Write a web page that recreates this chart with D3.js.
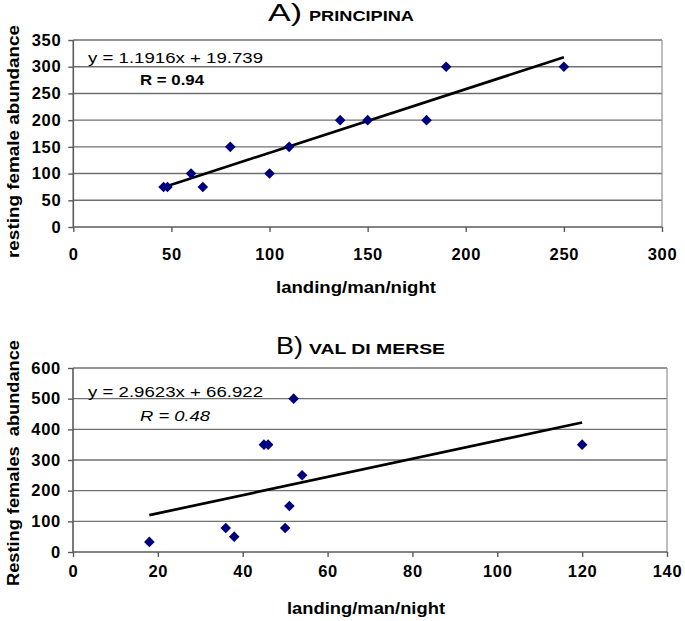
<!DOCTYPE html>
<html>
<head>
<meta charset="utf-8">
<script src="https://cdn.jsdelivr.net/npm/d3@7"></script>
<style>
  html, body { margin: 0; padding: 0; background: #fff; }
  svg { display: block; }
  text { font-family: "Liberation Sans", Arial, sans-serif; fill: #000; }
</style>
</head>
<body>
<svg id="chart" width="685" height="621"></svg>
<script>
// ---------- Data ----------
const landingA = [46, 48, 60, 66, 80, 100, 110, 136, 150, 180, 190, 250];
const restingA = [75, 75, 100, 75, 150, 100, 150, 200, 200, 200, 300, 300];
const slopeA = 1.1916, interceptA = 19.739;
const xTicksA = [0, 50, 100, 150, 200, 250, 300];
const yTicksA = [0, 50, 100, 150, 200, 250, 300, 350];

const landingB = [18, 36, 38, 45, 46, 50, 51, 52, 54, 120];
const restingB = [33, 78, 50, 350, 350, 78, 150, 500, 250, 350];
const slopeB = 2.9623, interceptB = 66.922;
const xTicksB = [0, 20, 40, 60, 80, 100, 120, 140];
const yTicksB = [0, 100, 200, 300, 400, 500, 600];

const titlesLetter = ["A)", "B)"];
const titlesSite = ["PRINCIPINA", "VAL DI MERSE"];
const xTitle = "landing/man/night";
const yTitles = ["resting female abundance", "Resting females  abundance"];
const eqTexts = ["y = 1.1916x + 19.739", "y = 2.9623x + 66.922"];
const rTexts = ["R = 0.94", "R = 0.48"];

// ---------- Drawing ----------
const svg = d3.select("#chart");

function txt(g, x, y, s, size, len, opts = {}) {
  const t = g.append("text").attr("x", x).attr("y", y)
    .attr("font-size", size)
    .attr("font-weight", opts.bold ? "bold" : "normal")
    .attr("font-style", opts.italic ? "italic" : "normal")
    .attr("text-anchor", opts.anchor || "start")
    .attr("textLength", len).attr("lengthAdjust", "spacingAndGlyphs")
    .style("white-space", "pre")
    .text(s);
  if (opts.transform) t.attr("transform", opts.transform);
  return t;
}

function panel(cfg) {
  const g = svg.append("g");
  const x = d3.scaleLinear().domain(cfg.xDomain).range(cfg.xRange);
  const y = d3.scaleLinear().domain(cfg.yDomain).range(cfg.yRange);
  const [x0, x1] = cfg.xRange, [y0, y1] = cfg.yRange;

  // gridlines
  g.append("g").selectAll("line").data(cfg.yTicks.filter(v => v !== 0)).join("line")
    .attr("x1", x0).attr("x2", x1)
    .attr("y1", d => y(d)).attr("y2", d => y(d))
    .attr("stroke", "#707070").attr("stroke-width", 1.4);
  // right border
  g.append("line").attr("x1", x1).attr("x2", x1).attr("y1", y1).attr("y2", y0)
    .attr("stroke", "#9a9a9a").attr("stroke-width", 1.3);

  // axes
  const yAxis = d3.axisLeft(y).tickValues(cfg.yTicks).tickSize(5).tickPadding(7).tickFormat(d3.format("d"));
  const xAxis = d3.axisBottom(x).tickValues(cfg.xTicks).tickSize(5).tickPadding(cfg.xPad).tickFormat(d3.format("d"));
  const ya = g.append("g").attr("transform", `translate(${x0},0)`).call(yAxis);
  const xa = g.append("g").attr("transform", `translate(0,${y0})`).call(xAxis);
  [ya, xa].forEach(a => {
    a.select(".domain").attr("stroke", "#5a5a5a").attr("stroke-width", 1.6);
    a.selectAll(".tick line").attr("stroke", "#5a5a5a").attr("stroke-width", 1.4);
    a.selectAll(".tick text").attr("font-family", "Liberation Sans, Arial, sans-serif")
      .attr("font-size", 16.5).attr("font-weight", "bold").attr("fill", "#000")
      .style("letter-spacing", "0.7px");
  });
  ya.select(".domain").attr("d", `M-0,${y0}V${y1}`);
  xa.select(".domain").attr("d", `M${x0},0H${x1}`);

  // trend line
  const xs = d3.extent(cfg.xs);
  const line = d3.line().x(d => x(d)).y(d => y(cfg.slope * d + cfg.intercept));
  g.append("path").attr("d", line(xs)).attr("fill", "none")
    .attr("stroke", "#000").attr("stroke-width", 2.7);

  // points
  const sym = d3.symbol(d3.symbolSquare, 56);
  g.append("g").selectAll("path").data(cfg.xs.map((v, i) => [v, cfg.ys[i]])).join("path")
    .attr("d", sym)
    .attr("transform", d => `translate(${x(d[0])},${y(d[1])}) rotate(45)`)
    .attr("fill", "#00007f");

  // equation + R
  txt(g, cfg.eqPos[0], cfg.eqPos[1], cfg.eq, 15.5, cfg.eqLen);
  txt(g, cfg.rPos[0], cfg.rPos[1], cfg.r, 15.5, cfg.rLen, { bold: cfg.rBold, italic: cfg.rItalic });

  // title
  txt(g, cfg.letterPos[0], cfg.letterPos[1], cfg.letter, 23, cfg.letterLen);
  txt(g, cfg.sitePos[0], cfg.sitePos[1], cfg.site, 15, cfg.siteLen, { bold: true });

  // axis titles
  txt(g, cfg.xTitlePos[0], cfg.xTitlePos[1], xTitle, 16, cfg.xTitleLen, { bold: true, anchor: "middle" });
  txt(g, 0, 0, cfg.yTitle, 16, cfg.yTitleLen, {
    bold: true, anchor: "middle",
    transform: `translate(${cfg.yTitlePos[0]},${cfg.yTitlePos[1]}) rotate(-90)`
  });
}

panel({
  xs: landingA, ys: restingA, slope: slopeA, intercept: interceptA,
  xDomain: [0, 300], yDomain: [0, 350], xRange: [73.3, 662], yRange: [227, 40],
  xTicks: xTicksA, yTicks: yTicksA, xPad: 16,
  eq: eqTexts[0], eqPos: [88, 62.5], eqLen: 175,
  r: rTexts[0], rPos: [140, 85], rLen: 64, rBold: true,
  letter: titlesLetter[0], letterPos: [268, 21], letterLen: 34,
  site: titlesSite[0], sitePos: [309, 21], siteLen: 105,
  xTitlePos: [356, 293], xTitleLen: 160,
  yTitle: yTitles[0], yTitlePos: [19, 141.5], yTitleLen: 233
});

panel({
  xs: landingB, ys: restingB, slope: slopeB, intercept: interceptB,
  xDomain: [0, 140], yDomain: [0, 600], xRange: [73, 667], yRange: [552, 368],
  xTicks: xTicksB, yTicks: yTicksB, xPad: 8,
  eq: eqTexts[1], eqPos: [88, 396.5], eqLen: 175,
  r: rTexts[1], rPos: [140, 420.5], rLen: 70, rItalic: true,
  letter: titlesLetter[1], letterPos: [276, 354], letterLen: 27,
  site: titlesSite[1], sitePos: [309, 354], siteLen: 136,
  xTitlePos: [366, 614], xTitleLen: 158,
  yTitle: yTitles[1], yTitlePos: [19, 463], yTitleLen: 246
});
</script>
</body>
</html>
